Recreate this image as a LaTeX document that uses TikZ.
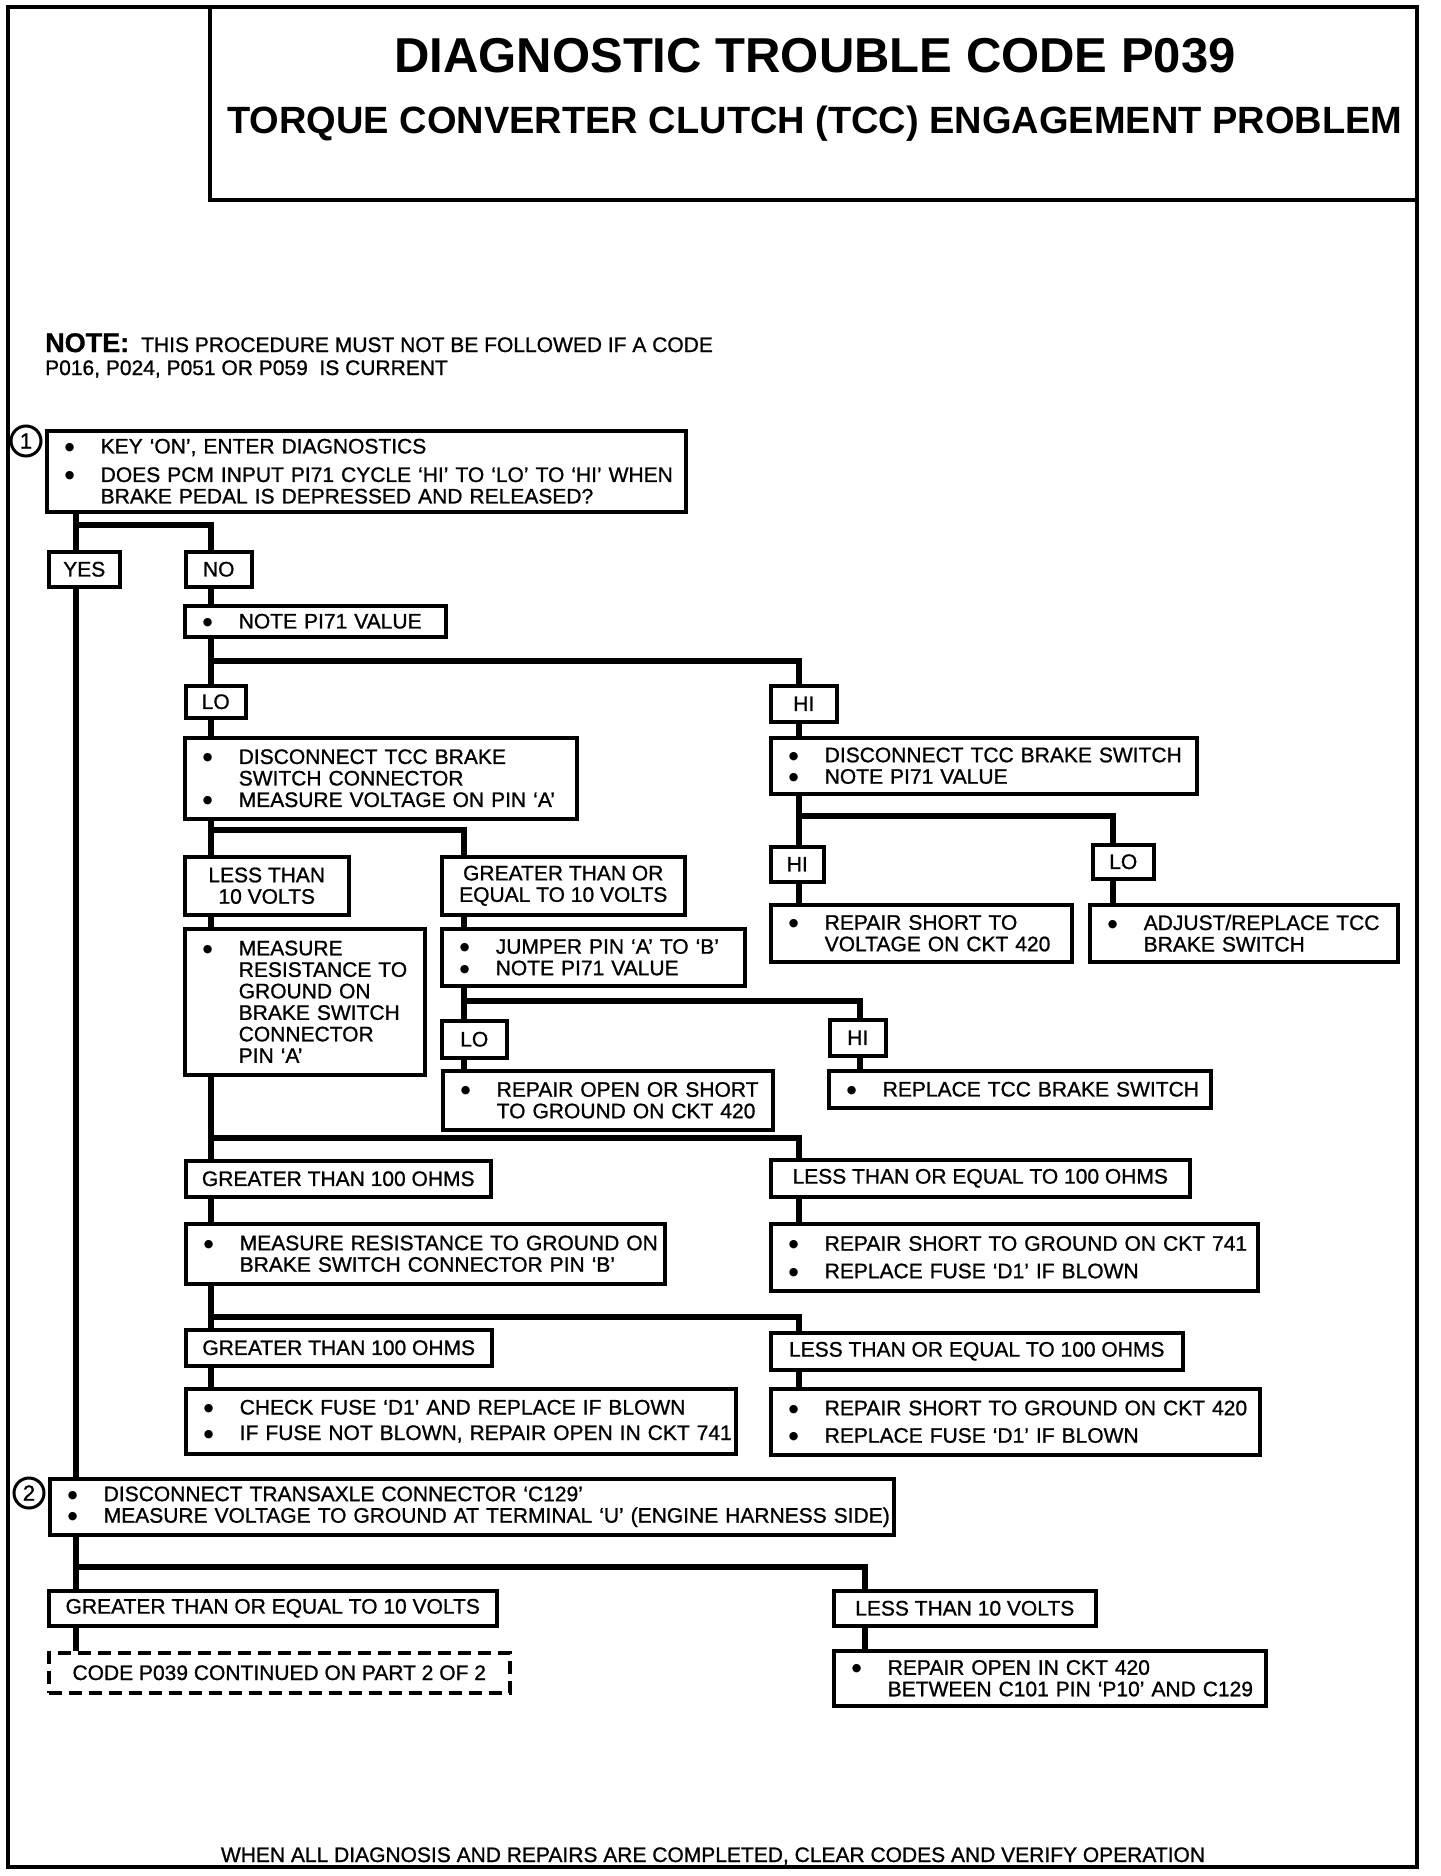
\documentclass[tikz,border=0pt]{standalone}
\usepackage{fontspec}
\setmainfont{Liberation Sans}
\newfontfamily\scanfont{Liberation Sans}[Ligatures=TeX, FakeBold=1]
\newfontfamily\dotfont{DejaVu Sans}
\newcommand{\txt}{\scanfont\fontsize{21}{21.5}\selectfont}
\newcommand{\bitem}[1]{\mbox{\makebox[36pt][l]{\raisebox{3pt}[0pt][0pt]{\dotfont\fontsize{11}{0}\selectfont ●}}#1}}
\newcommand{\bcont}[1]{\mbox{\hspace*{36pt}#1}}
\begin{document}
\begin{tikzpicture}[x=1pt, y=-1pt,
    frame/.style={line width=4pt},
    box/.style={draw, line width=3.5pt, anchor=north west, inner xsep=18pt, inner ysep=3pt, align=left, font=\txt},
    lbl/.style={draw, line width=3.5pt, anchor=north west, inner sep=2pt, align=center, font=\txt},
    num/.style={circle, draw, line width=3pt, minimum size=30pt, inner sep=0pt, font=\scanfont\fontsize{22}{22}\selectfont},
    link/.style={line width=5.5pt, line join=miter}]
  \useasboundingbox (0,0) rectangle (1440,1876);
  % page frame and title block
  \draw[frame] (8,7) rectangle (1417,1867);
  \draw[frame] (210,7) rectangle (1417,200);
  \node[anchor=base, font=\fontsize{49}{49}\selectfont\bfseries] (ttl) at (815,72) {DIAGNOSTIC TROUBLE CODE P039};
  \node[anchor=base, font=\fontsize{38}{38}\selectfont\bfseries] (sub) at (815,133) {TORQUE CONVERTER CLUTCH (TCC) ENGAGEMENT PROBLEM};
  \node[anchor=base west, inner sep=0pt, font=\txt] (note1) at (45,352) {{\fontsize{27}{27}\selectfont\bfseries NOTE:}\hspace{12pt}THIS PROCEDURE MUST NOT BE FOLLOWED IF A CODE};
  \node[anchor=base west, inner sep=0pt, font=\txt] (note2) at (45,375) {P016, P024, P051 OR P059\ \ IS CURRENT};
  \node[anchor=base, inner sep=0pt, font=\txt] (foot) at (713,1862) {WHEN ALL DIAGNOSIS AND REPAIRS ARE COMPLETED, CLEAR CODES AND VERIFY OPERATION};

  % step 1
  \node[num] (n1) at (26,441) {1};
  \node[box, text width=603pt, minimum height=81pt] (b1) at (45,429) {\bitem{KEY `ON', ENTER DIAGNOSTICS}\\[7pt]\bitem{DOES PCM INPUT PI71 CYCLE `HI' TO `LO' TO `HI' WHEN}\\\bcont{BRAKE PEDAL IS DEPRESSED AND RELEASED?}};
  \node[lbl, minimum width=71pt, minimum height=35pt] (yes) at (47,550) {YES};
  \node[lbl, minimum width=66pt, minimum height=35pt] (no) at (184,550) {NO};
  \node[box, text width=225pt, minimum height=31pt] (bnote) at (183,604) {\bitem{NOTE PI71 VALUE}};
  \node[lbl, minimum width=60pt, minimum height=32pt] (lo1) at (184,684) {LO};
  \node[lbl, minimum width=66pt, minimum height=36pt] (hi1) at (769,684) {HI};
  \node[box, text width=356pt, minimum height=81pt] (bdisc) at (183,736) {\bitem{DISCONNECT TCC BRAKE}\\\bcont{SWITCH CONNECTOR}\\\bitem{MEASURE VOLTAGE ON PIN `A'}};
  \node[box, text width=390pt, minimum height=56pt] (bdisc2) at (769,736) {\bitem{DISCONNECT TCC BRAKE SWITCH}\\\bitem{NOTE PI71 VALUE}};
  \node[lbl, minimum width=164pt, minimum height=58pt] (lt10) at (183,855) {LESS THAN\\10 VOLTS};
  \node[lbl, minimum width=243pt, minimum height=58pt] (gte10) at (440,855) {GREATER THAN OR\\EQUAL TO 10 VOLTS};
  \node[box, text width=204pt, minimum height=146pt] (bmeas) at (183,927) {\bitem{MEASURE}\\\bcont{RESISTANCE TO}\\\bcont{GROUND ON}\\\bcont{BRAKE SWITCH}\\\bcont{CONNECTOR}\\\bcont{PIN `A'}};
  \node[box, text width=267pt, minimum height=57pt] (bjump) at (440,927) {\bitem{JUMPER PIN `A' TO `B'}\\\bitem{NOTE PI71 VALUE}};
  \node[lbl, minimum width=65pt, minimum height=37pt] (lo2) at (440,1019) {LO};
  \node[box, text width=294pt, minimum height=59pt] (brep1) at (441,1069) {\bitem{REPAIR OPEN OR SHORT}\\\bcont{TO GROUND ON CKT 420}};
  \node[lbl, minimum width=56pt, minimum height=36pt] (hi3) at (828,1018) {HI};
  \node[box, text width=346pt, minimum height=37pt] (brepl) at (827,1069) {\bitem{REPLACE TCC BRAKE SWITCH}};
  \node[lbl, minimum width=53pt, minimum height=35pt] (hi2) at (769,845) {HI};
  \node[lbl, minimum width=61pt, minimum height=34pt] (lo3) at (1091,843) {LO};
  \node[box, text width=265pt, minimum height=57pt] (brsv) at (769,903) {\bitem{REPAIR SHORT TO}\\\bcont{VOLTAGE ON CKT 420}};
  \node[box, text width=272pt, minimum height=57pt] (badj) at (1088,903) {\bitem{ADJUST/REPLACE TCC}\\\bcont{BRAKE SWITCH}};
  \node[lbl, minimum width=305pt, minimum height=36pt] (gt100a) at (184,1159) {GREATER THAN 100 OHMS};
  \node[lbl, minimum width=419pt, minimum height=37pt] (le100a) at (769,1158) {LESS THAN OR EQUAL TO 100 OHMS};
  \node[box, text width=443pt, minimum height=60pt] (bmeasb) at (184,1222) {\bitem{MEASURE RESISTANCE TO GROUND ON}\\\bcont{BRAKE SWITCH CONNECTOR PIN `B'}};
  \node[box, text width=451pt, minimum height=67pt] (b741) at (769,1222) {\bitem{REPAIR SHORT TO GROUND ON CKT 741}\\[6pt]\bitem{REPLACE FUSE `D1' IF BLOWN}};
  \node[lbl, minimum width=306pt, minimum height=36pt] (gt100b) at (184,1328) {GREATER THAN 100 OHMS};
  \node[lbl, minimum width=412pt, minimum height=37pt] (le100b) at (769,1331) {LESS THAN OR EQUAL TO 100 OHMS};
  \node[box, text width=514pt, minimum height=65pt] (bfuse) at (184,1387) {\bitem{CHECK FUSE `D1' AND REPLACE IF BLOWN}\\[4pt]\bitem{IF FUSE NOT BLOWN, REPAIR OPEN IN CKT 741}};
  \node[box, text width=453pt, minimum height=66pt] (b420) at (769,1387) {\bitem{REPAIR SHORT TO GROUND ON CKT 420}\\[6pt]\bitem{REPLACE FUSE `D1' IF BLOWN}};

  % step 2
  \node[num] (n2) at (29,1493) {2};
  \node[box, text width=808pt, minimum height=56pt] (b2) at (48,1477) {\bitem{DISCONNECT TRANSAXLE CONNECTOR `C129'}\\\bitem{MEASURE VOLTAGE TO GROUND AT TERMINAL `U' (ENGINE HARNESS SIDE)}};
  \node[lbl, minimum width=448pt, minimum height=35pt] (gte10b) at (47,1589) {GREATER THAN OR EQUAL TO 10 VOLTS};
  \node[lbl, minimum width=262pt, minimum height=35pt] (lt10b) at (832,1589) {LESS THAN 10 VOLTS};
  \node[lbl, dash pattern=on 13pt off 7pt, minimum width=461pt, minimum height=40pt] (cont) at (47,1651) {CODE P039 CONTINUED ON PART 2 OF 2};
  \node[box, text width=396pt, minimum height=55pt] (brep2) at (832,1649) {\bitem{REPAIR OPEN IN CKT 420}\\\bcont{BETWEEN C101 PIN `P10' AND C129}};

  % flow lines
  \coordinate (colA) at (76,0);
  \coordinate (colB) at (211,0);
  \coordinate (colC) at (464,0);
  \coordinate (colD) at (799,0);
  \coordinate (colE) at (860,0);
  \coordinate (colF) at (1113,0);
  \coordinate (colG) at (865,0);
  \coordinate (s1) at (76,525);
  \coordinate (s2) at (211,661);
  \coordinate (s3) at (211,830);
  \coordinate (s4) at (464,1001);
  \coordinate (s5) at (799,816);
  \coordinate (s6) at (211,1138);
  \coordinate (s7) at (211,1317);
  \coordinate (s8) at (76,1567);
  \foreach \a/\b/\c in {b1/yes/colA, yes/b2/colA, b2/gte10b/colA, gte10b/cont/colA,
      no/bnote/colB, bnote/lo1/colB, lo1/bdisc/colB, bdisc/lt10/colB, lt10/bmeas/colB,
      bmeas/gt100a/colB, gt100a/bmeasb/colB, bmeasb/gt100b/colB, gt100b/bfuse/colB,
      gte10/bjump/colC, bjump/lo2/colC, lo2/brep1/colC,
      hi1/bdisc2/colD, bdisc2/hi2/colD, hi2/brsv/colD, le100a/b741/colD, le100b/b420/colD,
      hi3/brepl/colE, lo3/badj/colF, lt10b/brep2/colG}
    \draw[link] (\a.south -| \c) -- (\b.north -| \c);
  \foreach \s/\b/\c in {s1/no/colB, s2/hi1/colD, s3/gte10/colC, s4/hi3/colE,
      s5/lo3/colF, s6/le100a/colD, s7/le100b/colD, s8/lt10b/colG}
    \draw[link] (\s) -| (\b.north -| \c);
\end{tikzpicture}
\end{document}
